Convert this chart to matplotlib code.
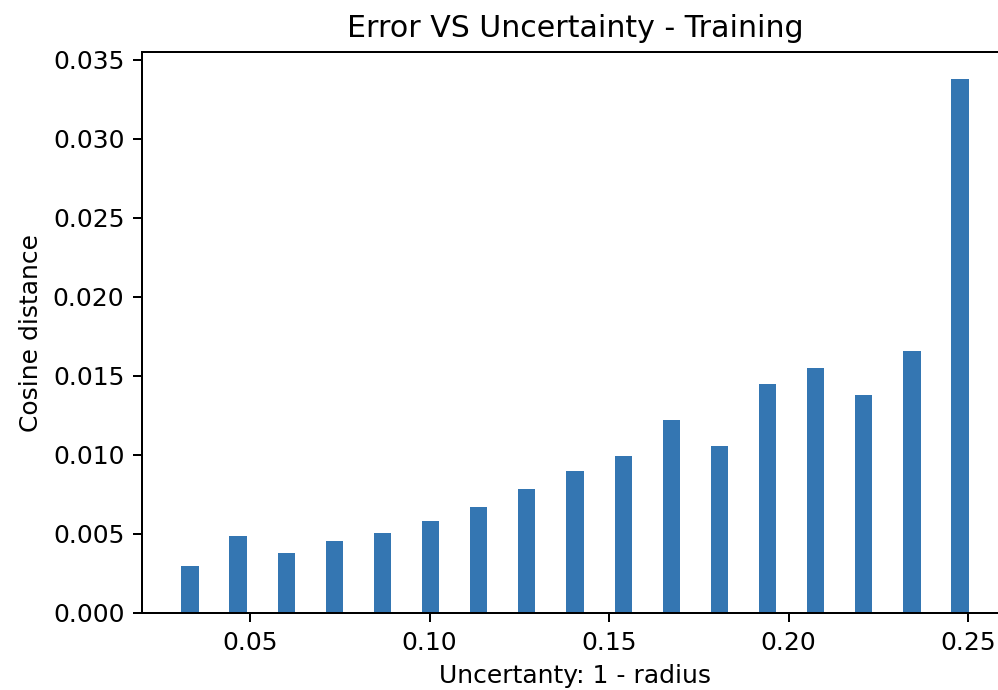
import matplotlib
matplotlib.use('Agg')
import matplotlib.pyplot as plt

# Centros dos bins de incerteza (1 - raio)
uncertainty = [0.0333, 0.0467, 0.0601, 0.0735, 0.0869, 0.1003, 0.1137, 0.1271,
               0.1405, 0.1539, 0.1673, 0.1807, 0.1941, 0.2075, 0.2209, 0.2343, 0.2477]
# Distancia cosseno media por bin
cosine_dist = [0.0030, 0.00487, 0.00381, 0.00453, 0.00508, 0.0058, 0.00672, 0.00784,
               0.0090, 0.00995, 0.01224, 0.01059, 0.01447, 0.01553, 0.01381, 0.01659, 0.0338]

dpi = 180
fig = plt.figure(figsize=(998 / dpi, 690 / dpi), dpi=dpi)
# eixo um pouco maior que a figura a direita (imagem original recortada)
ax = fig.add_axes([142 / 998, 1 - 613 / 690, (1008 - 142) / 998, (613 - 52) / 690])

ax.bar(uncertainty, cosine_dist, width=0.0048, color='#3476b2')
ax.set_title('Error VS Uncertainty - Training')
ax.set_xlabel('Uncertanty: 1 - radius')
ax.set_ylabel('Cosine distance')
ax.set_xticks([0.05, 0.10, 0.15, 0.20, 0.25])
ax.set_yticks([0.0, 0.005, 0.010, 0.015, 0.020, 0.025, 0.030, 0.035])
ax.spines['right'].set_visible(False)  # fica fora do recorte

fig.savefig('out.png', dpi=dpi)
